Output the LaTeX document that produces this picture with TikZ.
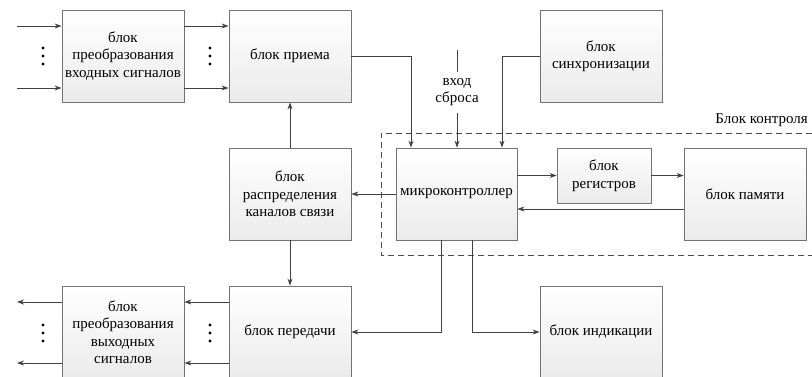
\documentclass[tikz,border=0pt]{standalone}
\usepackage{fontspec}
\setmainfont{Liberation Serif}
\newfontfamily\blkfont{Liberation Serif}
\usetikzlibrary{arrows.meta,shadows,calc}
\begin{document}
\begin{tikzpicture}[x=1pt,y=-1pt,
  blk/.style={draw=black!55, line width=0.8pt, top color=white, bottom color=black!8,
    minimum width=122pt, minimum height=92pt, inner sep=1pt, align=center,
    font=\blkfont\fontsize{15}{17.5}\selectfont,
    drop shadow={shadow xshift=1.2pt, shadow yshift=-1.2pt, fill=black!25, opacity=0.6}},
  lbl/.style={align=center, font=\blkfont\fontsize{15}{17.5}\selectfont, inner sep=1pt},
  con/.style={draw=black!75, line width=0.8pt},
  arr/.style={con, -{Stealth[length=7pt,width=5pt]}},
  dot/.style={fill=black, circle, inner sep=0pt, minimum size=3.2pt}
]
\useasboundingbox (0,0) rectangle (812,376);
% dashed control frame
\draw[draw=black!70, line width=0.9pt, dash pattern=on 6pt off 4pt]
  (812,133) -- (381,133) -- (381,255) -- (812,255);
\node[lbl, anchor=east] (ctl) at (809,120) {Блок контроля};

% blocks
\node[blk] (vh) at (123,56) {блок\\преобразования\\входных сигналов};
\node[blk] (pr) at (290,56) {блок приема};
\node[blk] (sy) at (601,56) {блок\\синхронизации};
\node[blk] (ds) at (290,194) {блок\\распределения\\каналов связи};
\node[blk, minimum width=121pt] (mc) at (456.5,194) {микроконтроллер};
\node[blk, minimum width=94pt, minimum height=55pt] (rg) at (604,175.5) {блок\\регистров};
\node[blk] (mm) at (745,194) {блок памяти};
\node[blk] (vy) at (123,332) {блок\\преобразования\\выходных\\сигналов};
\node[blk] (pd) at (290,332) {блок передачи};
\node[blk] (ind) at (601,332) {блок индикации};

% helper coordinates
\coordinate (in1) at (17,26);
\coordinate (in2) at (17,88);
\coordinate (out1) at (17,302);
\coordinate (out2) at (17,363);
\coordinate (xa) at (411,0);
\coordinate (xb) at (457,0);
\coordinate (xc) at (502,0);
\coordinate (xd) at (441,0);
\coordinate (xe) at (472,0);
\coordinate (yb) at (0,209);
\coordinate (r1) at (457,50);
\coordinate (r2) at (457,72);
\coordinate (r3) at (457,113);

% inputs
\draw[arr] (in1) -- (in1 -| vh.west);
\draw[arr] (in2) -- (in2 -| vh.west);
\draw[arr] (vh.east |- in1) -- (pr.west |- in1);
\draw[arr] (vh.east |- in2) -- (pr.west |- in2);
% dots
\foreach \x/\n in {43/a,210/b}{
  \node[dot] (t\n1) at (\x,48) {};
  \node[dot] (t\n2) at (\x,56) {};
  \node[dot] (t\n3) at (\x,64) {};
  \node[dot] (b\n1) at (\x,325) {};
  \node[dot] (b\n2) at (\x,333) {};
  \node[dot] (b\n3) at (\x,341) {};
}

% to microcontroller
\draw[arr] (pr.east) -| (mc.north -| xa);
\draw[con] (r1) -- (r2);
\node[lbl] (rs) at (457,92) {вход\\сброса};
\draw[arr] (r3) -- (mc.north -| xb);
\draw[arr] (sy.west) -| (mc.north -| xc);

% control block internals
\draw[arr] (mc.east |- rg.west) -- (rg.west);
\draw[arr] (rg.east) -- (mm.west |- rg.east);
\draw[arr] (mm.west |- yb) -- (mc.east |- yb);

% distribution
\draw[arr] (mc.west) -- (ds.east);
\draw[arr] (ds.north) -- (pr.south);
\draw[arr] (ds.south) -- (pd.north);

% outputs
\draw[arr] (mc.south -| xd) |- (pd.east);
\draw[arr] (mc.south -| xe) |- (ind.west);
\draw[arr] (pd.west |- out1) -- (vy.east |- out1);
\draw[arr] (pd.west |- out2) -- (vy.east |- out2);
\draw[arr] (vy.west |- out1) -- (out1);
\draw[arr] (vy.west |- out2) -- (out2);
\end{tikzpicture}
\end{document}
